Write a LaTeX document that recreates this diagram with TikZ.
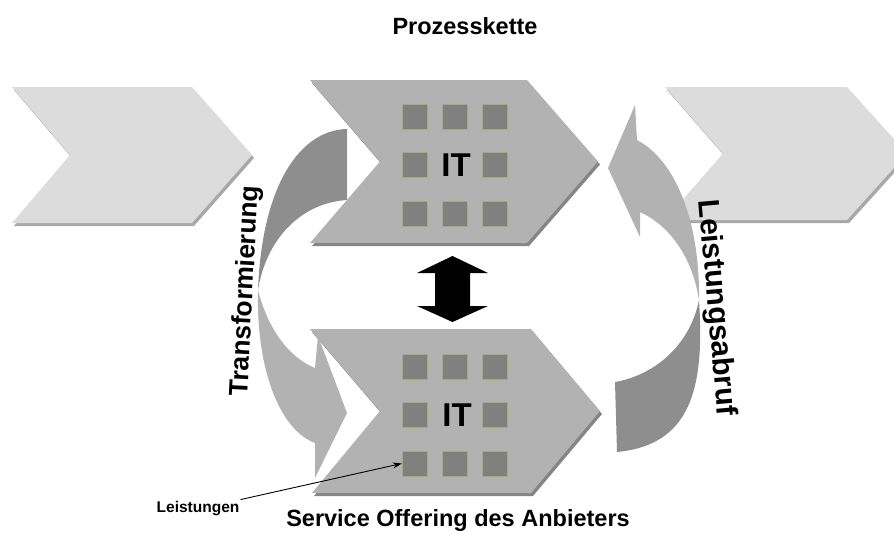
\documentclass[tikz,border=0pt]{standalone}
\usepackage{fontspec}
\setmainfont{Liberation Sans}
\usetikzlibrary{arrows.meta}

\definecolor{paleGray}{HTML}{DCDCDC}
\definecolor{paleShade}{HTML}{A8A8A8}
\definecolor{midGray}{HTML}{B2B2B2}
\definecolor{midShade}{HTML}{858585}
\definecolor{darkBand}{HTML}{8E8E8E}
\definecolor{boxGray}{HTML}{808080}
\definecolor{boxRim}{HTML}{A8A878}

\begin{document}
\begin{tikzpicture}[x=1pt,y=-1pt, every node/.style={font=\bfseries},
    sq/.style={fill=boxGray, draw=boxRim, line width=0.4pt, minimum size=25pt, inner sep=0pt},
    big/.style={font=\bfseries\fontsize{23.5}{28}\selectfont, anchor=base},
    itlabel/.style={font=\bfseries\fontsize{33}{37}\selectfont, inner sep=0pt}]
    \clip (0,0) rectangle (894,533);

    % neighbouring process steps
    \fill[paleShade] (14,90) -- (194,90) -- (254,158) -- (194,226) -- (14,226) -- (72,158) -- cycle;
    \fill[paleGray] (12,87) -- (192,87) -- (252,155) -- (192,223) -- (12,223) -- (70,155) -- cycle;
    \fill[paleShade] (667,90) -- (849,90) -- (909,156.5) -- (849,223) -- (667,223) -- (725,156.5) -- cycle;
    \fill[paleGray] (665,87) -- (847,87) -- (907,153.5) -- (847,220) -- (665,220) -- (723,153.5) -- cycle;

    % IT step in the chain and the offering below
    \fill[midShade] (312,83) -- (529,83) -- (600,164.5) -- (529,246) -- (312,246) -- (382,164.5) -- cycle;
    \fill[midGray] (310,80) -- (527,80) -- (598,161.5) -- (527,243) -- (310,243) -- (380,161.5) -- cycle;
    \fill[midShade] (312,332) -- (533,332) -- (602,414) -- (533,496) -- (314,496) -- (382,414) -- cycle;
    \fill[midGray] (310,329) -- (531,329) -- (600,411) -- (531,493) -- (312,493) -- (380,411) -- cycle;

    \foreach \r/\c in {1/1,1/2,1/3,2/1,2/3,3/1,3/2,3/3} {
        \node[sq] (a\r\c) at (374.5+40*\c, 68+48.5*\r) {};
        \node[sq] (b\r\c) at (374.5+40*\c, 318+48.5*\r) {};
    }
    \node[itlabel] (itA) at (456,165.5) {IT};
    \node[itlabel] (itB) at (457,415.5) {IT};

    % link between both levels
    \fill[black] (452.5,256) -- (488,273) -- (470,273) -- (470,306) -- (488,306) -- (452.5,322)
        -- (417,306) -- (435,306) -- (435,273) -- (417,273) -- cycle;

    % Transformierung
    \fill[darkBand] (347,129) .. controls (300,130) and (262,185) .. (258,290)
        .. controls (266,240) and (300,203) .. (347,200) -- cycle;
    \fill[midGray] (258,290) .. controls (256,370) and (280,430) .. (315,443) -- (315,478) -- (347,413)
        -- (318,336) -- (315,368) .. controls (290,358) and (268,330) .. (258,290) -- cycle;

    % Leistungsabruf
    \fill[darkBand] (699,300) .. controls (705,390) and (690,445) .. (617,452) -- (615,382)
        .. controls (655,375) and (690,345) .. (699,300) -- cycle;
    \fill[midGray] (699,300) .. controls (700,220) and (675,160) .. (637,140) -- (635,105) -- (608,168)
        -- (640,237) -- (640,212) .. controls (668,225) and (692,255) .. (699,300) -- cycle;

    \node[font=\bfseries\fontsize{26.5}{30}\selectfont, rotate=87] (transf) at (246,291) {Transformierung};
    \node[font=\bfseries\fontsize{30}{34}\selectfont, rotate=-85] (abruf) at (716,308) {Leistungsabruf};

    \node[big] (title) at (465,34) {Prozesskette};
    \node[big] (offer) at (458,526) {Service Offering des Anbieters};
    \node[font=\bfseries\fontsize{15.5}{18}\selectfont, anchor=base, inner sep=1pt] (leist) at (198,512) {Leistungen};
    \draw[line width=0.9pt, -{Stealth[length=9pt,width=6pt]}] (leist.north east) -- (b31.west);
\end{tikzpicture}
\end{document}
